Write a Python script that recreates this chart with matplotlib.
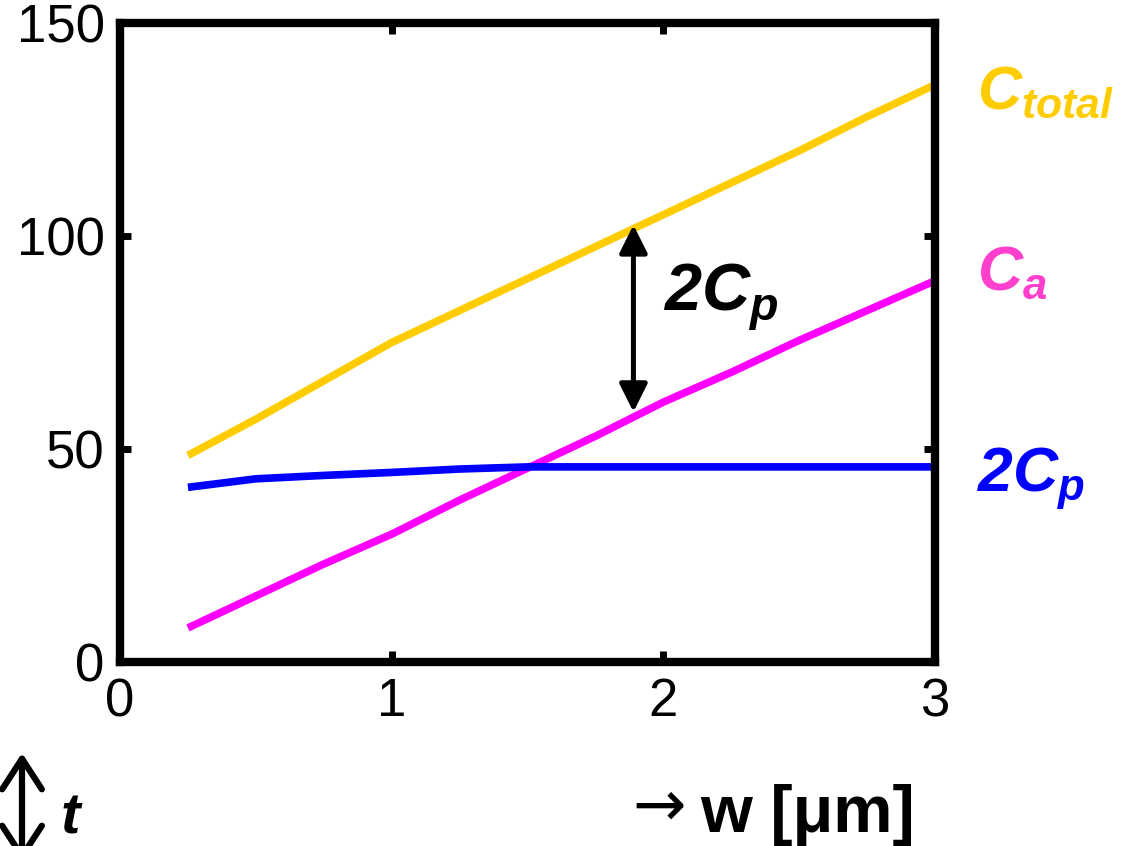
import matplotlib
matplotlib.use("Agg")
import matplotlib.pyplot as plt
from matplotlib.patches import FancyArrowPatch

# data
w = [0.25, 0.5, 0.75, 1.0, 1.25, 1.5, 1.75, 2.0, 2.25, 2.5, 2.75, 3.0]
c_total = [48.5, 57, 66, 75, 82.5, 90, 97.5, 105, 112.5, 120, 128, 135.5]
c_a = [8, 15.5, 23, 30, 38, 45.5, 53, 61, 68, 75.5, 82.5, 89.5]
two_cp = [41, 43, 43.8, 44.5, 45.3, 45.8, 45.8, 45.8, 45.8, 45.8, 45.8, 45.8]
xticks = [0, 1, 2, 3]
yticks = [0, 50, 100, 150]

plt.rcParams['font.family'] = ['Liberation Sans', 'DejaVu Sans']
plt.rcParams['mathtext.fontset'] = 'custom'
plt.rcParams['mathtext.it'] = 'Liberation Sans:bold:italic'
plt.rcParams['mathtext.rm'] = 'Liberation Sans:bold:italic'
plt.rcParams['mathtext.bf'] = 'Liberation Sans:bold'

fig = plt.figure(figsize=(11.3, 8.46), dpi=100)
ax = fig.add_axes([0.1062, 0.2175, 0.7212, 0.7553])

ax.plot(w, c_total, color='#FFCC00', lw=5.5, solid_capstyle='butt')
ax.plot(w, c_a, color='#FF00FF', lw=5.5, solid_capstyle='butt')
ax.plot(w, two_cp, color='#0000FF', lw=5.5, solid_capstyle='butt')

ax.set_xlim(0, 3)
ax.set_ylim(0, 150)
ax.set_xticks(xticks)
ax.set_yticks(yticks)
ax.tick_params(direction='in', top=True, right=True, length=8, width=5,
               labelsize=38, pad=11)
for s in ax.spines.values():
    s.set_linewidth(6)

# double arrow between the curves
ax.annotate('', xy=(1.89, 58.7), xytext=(1.89, 102.6),
            arrowprops=dict(arrowstyle='<|-|>,head_length=1.7,head_width=0.85',
                            color='black', lw=3.6, shrinkA=0, shrinkB=0))
ax.text(2.0, 82.6, r'$2C_p$', fontsize=48, color='black', va='baseline')

# curve labels
ax.text(3.155, 130, r'$C_{total}$', fontsize=44, color='#FFCC00',
        va='baseline', clip_on=False)
ax.text(3.155, 87.3, r'$C_a$', fontsize=45, color='#FF40CC',
        va='baseline', clip_on=False)
ax.text(3.155, 40, r'$2C_p$', fontsize=45, color='#0000FF',
        va='baseline', clip_on=False)

# bottom annotations
fig.text(632 / 1130, 1 - 826 / 846, '\u2192', fontsize=46, va='baseline',
         family='DejaVu Sans')
fig.text(700 / 1130, 1 - 832 / 846, 'w [\u03bcm]', fontsize=48,
         fontweight='bold', va='baseline')
fig.text(61 / 1130, 0.001, 't', fontsize=42, fontweight='bold',
         style='italic', va='bottom')
fig.patches.append(FancyArrowPatch(
    (22 / 1130, 1 - 753 / 846), (22 / 1130, 1 - 862 / 846),
    transform=fig.transFigure, arrowstyle='<->,head_length=1.0,head_width=0.65',
    mutation_scale=22, color='black', lw=4.5, shrinkA=0, shrinkB=0,
    figure=fig))

fig.savefig('out.png', dpi=100)
